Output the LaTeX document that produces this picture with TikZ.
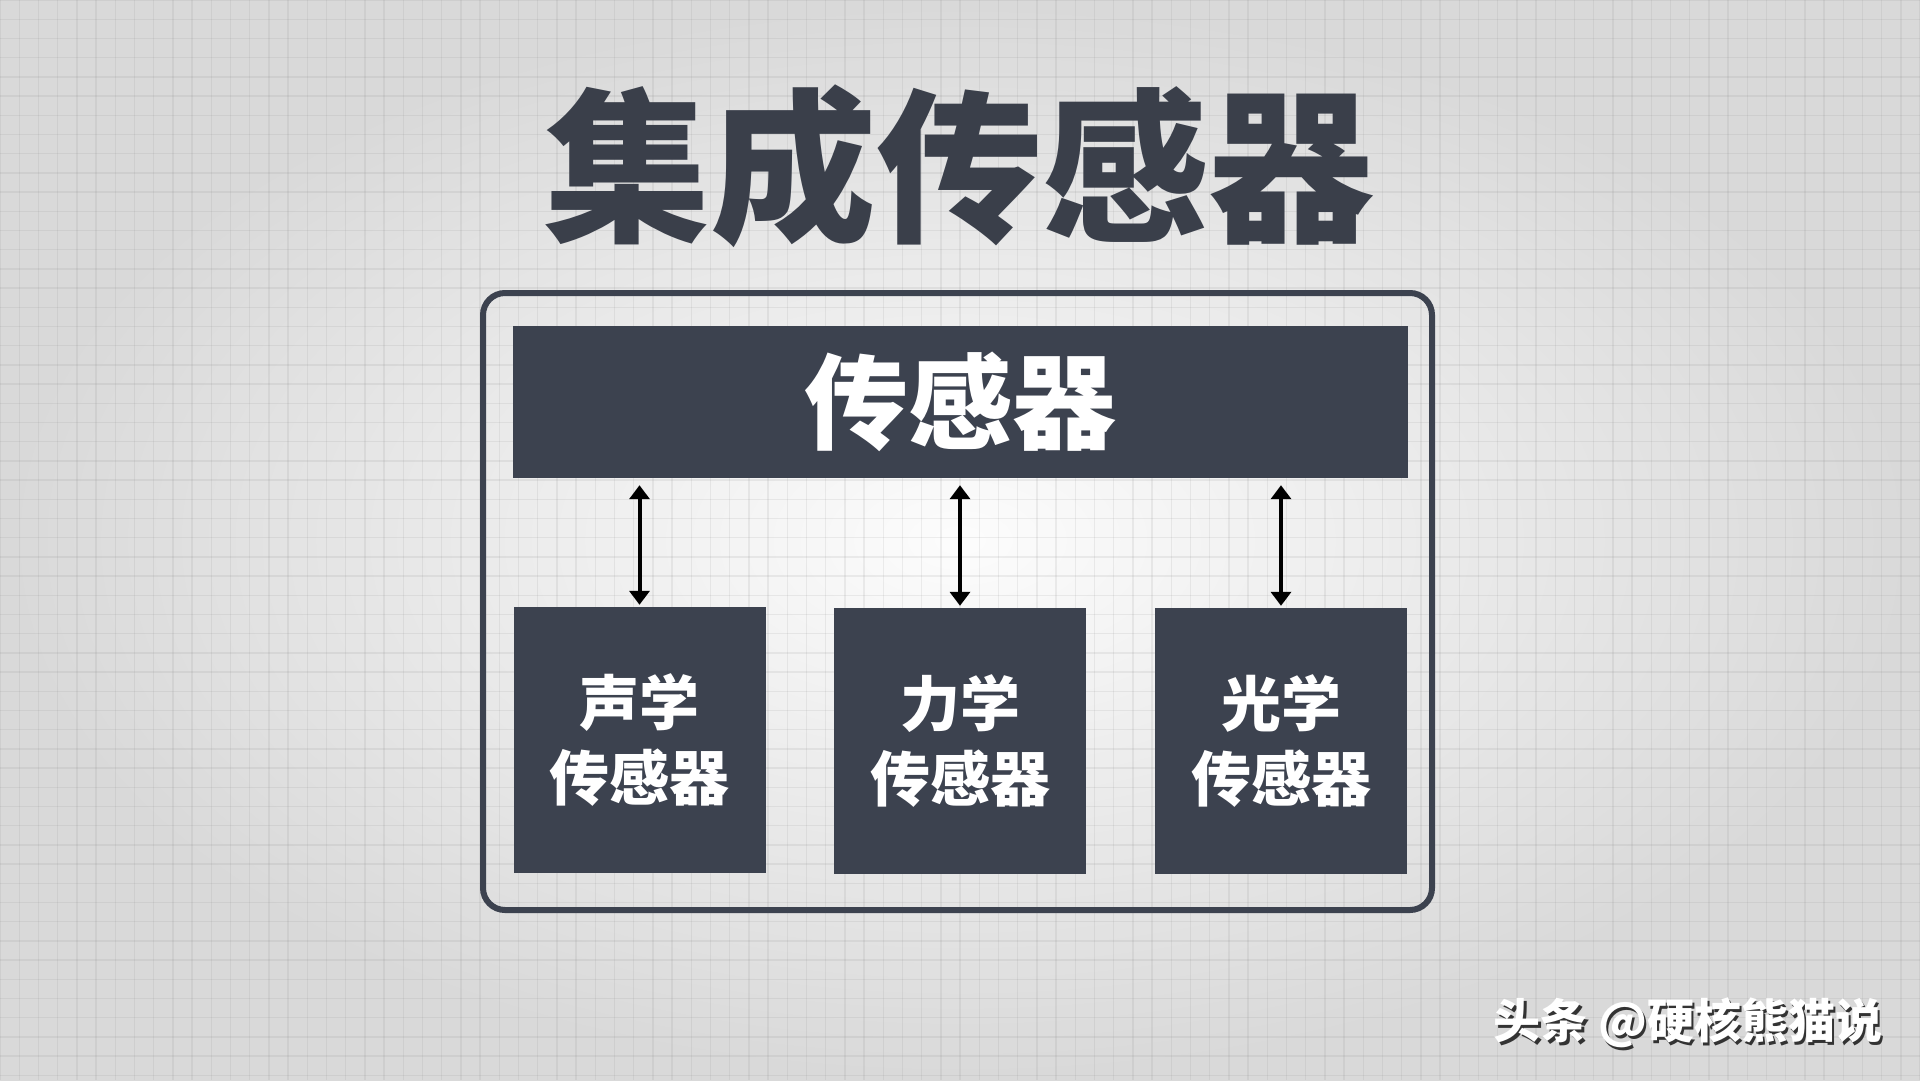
\documentclass[tikz,border=0pt]{standalone}
\usepackage{fontspec}
\newfontfamily\cjk{Noto Sans CJK SC}
\usetikzlibrary{arrows.meta}
\definecolor{boxcol}{RGB}{60,66,79}
\definecolor{titlecol}{RGB}{58,63,74}
\begin{document}
\begin{tikzpicture}[x=1pt,y=-1pt,
  darkbox/.style={fill=boxcol,draw=none,inner sep=0pt,text=white,align=center,
    font=\cjk\bfseries\fontsize{60}{75}\selectfont},
  biarrow/.style={line width=4pt,black,{Triangle[width=20pt,length=14pt]}-{Triangle[width=20pt,length=14pt]},
    shorten <=7pt, shorten >=2pt},
  gridline/.style={line width=1.4pt,gray,opacity=0.12},
  wmark/.style={font=\cjk\bfseries\fontsize{47}{47}\selectfont,inner sep=0pt}]
\useasboundingbox (0,0) rectangle (1920,1080);
% background
\shade[inner color=white!98!gray, outer color=gray!30] (0,0) rectangle (1920,1080);
\foreach \i in {0,...,100}{
  \draw[gridline] (\i*19.2,0) -- (\i*19.2,1080);
}
\foreach \j in {0,...,57}{
  \draw[gridline] (0,\j*19.2) -- (1920,\j*19.2);
}
% title
\node[text=titlecol,font=\cjk\bfseries\fontsize{166}{166}\selectfont,inner sep=0pt] (title) at (959,166) {集成传感器};
% outer frame
\node[draw=boxcol,line width=6pt,rounded corners=22pt,minimum width=949pt,minimum height=617pt,inner sep=0pt] (frame) at (957.5,601.5) {};
% top bar
\node[darkbox,minimum width=895pt,minimum height=152pt,font=\cjk\bfseries\fontsize{104}{104}\selectfont] (bar) at (960.5,402) {传感器};
% boxes
\node[darkbox,minimum width=252pt,minimum height=266pt] (b1) at (639.5,740) {声学\\传感器};
\node[darkbox,minimum width=252pt,minimum height=266pt] (b2) at (960,741) {力学\\传感器};
\node[darkbox,minimum width=252pt,minimum height=266pt] (b3) at (1281,741) {光学\\传感器};
% arrows
\draw[biarrow] (bar.south -| b1.north) -- (b1.north);
\draw[biarrow] (bar.south -| b2.north) -- (b2.north);
\draw[biarrow] (bar.south -| b3.north) -- (b3.north);
% watermark
\node[wmark,text=black!80] (wms) at (1690.5,1025.5) {头条 @硬核熊猫说};
\node[wmark,text=white] (wm) at (1688,1023) {头条 @硬核熊猫说};
\end{tikzpicture}
\end{document}
